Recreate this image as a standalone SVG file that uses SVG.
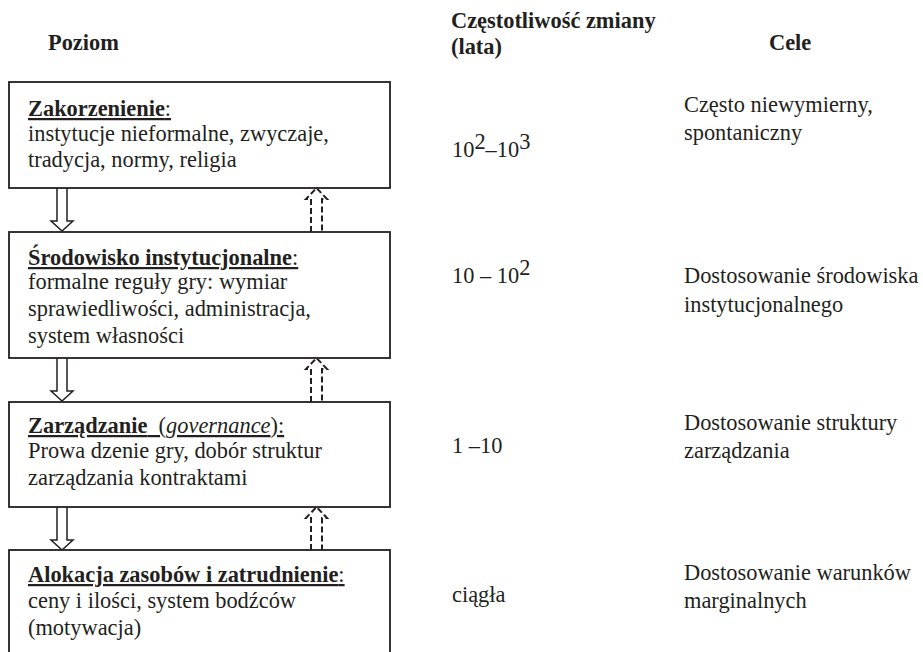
<svg xmlns="http://www.w3.org/2000/svg" width="923" height="652" viewBox="0 0 923 652">
<style>
text{font-family:"Liberation Serif","Times New Roman",serif;font-size:22.4px;fill:#231f20}
.b{font-weight:bold}
.u{text-decoration:underline;text-decoration-thickness:2px}
.box{fill:#fff;stroke:#231f20;stroke-width:1.8}
.hol{fill:#fff;stroke:#231f20;stroke-width:1.5;stroke-linejoin:miter}
.dash{fill:none;stroke:#231f20;stroke-width:2;stroke-dasharray:6 3}
</style>
<rect width="923" height="652" fill="#fff"/>
<g id="headers">
<text class="b" x="48" y="50">Poziom</text>
<text class="b" x="451" y="28">Częstotliwość zmiany</text>
<text class="b" x="451" y="54">(lata)</text>
<text class="b" x="769" y="50">Cele</text>
</g>
<g id="connectors">
<path class="hol" d="M57,188 V221 H51 L62,231 L73,221 H67 V188"/>
<path class="hol" d="M57,358 V391 H51 L62,401 L73,391 H67 V358"/>
<path class="hol" d="M57,507 V540 H51 L62,550 L73,540 H67 V507"/>
<path class="dash" d="M311,232 V199 H306 L316.5,188 L327,199 H322 V232"/>
<path class="dash" d="M311,402 V369 H306 L316.5,358 L327,369 H322 V402"/>
<path class="dash" d="M311,550 V518 H306 L316.5,507 L327,518 H322 V550"/>
</g>
<g id="node-zakorzenienie">
<rect class="box" x="9" y="82" width="381" height="106"/>
<text x="28" y="116" class="u"><tspan class="b">Zakorzenienie</tspan>:</text>
<text x="28" y="141">instytucje nieformalne, zwyczaje,</text>
<text x="28" y="167">tradycja, normy, religia</text>
</g>
<g id="node-srodowisko">
<rect class="box" x="9" y="232" width="381" height="126"/>
<text x="28" y="265" class="u"><tspan class="b">Środowisko instytucjonalne</tspan>:</text>
<text x="28" y="289">formalne reguły gry: wymiar</text>
<text x="28" y="316">sprawiedliwości, administracja,</text>
<text x="28" y="343">system własności</text>
</g>
<g id="node-zarzadzanie">
<rect class="box" x="9" y="402" width="381" height="105"/>
<text x="28" y="433" class="u" xml:space="preserve" style="white-space:pre"><tspan class="b">Zarządzanie</tspan>  (<tspan font-style="italic">governance</tspan>):</text>
<text x="28" y="458">Prowa dzenie gry, dobór struktur</text>
<text x="28" y="485">zarządzania kontraktami</text>
</g>
<g id="node-alokacja">
<rect class="box" x="9" y="550" width="381" height="120"/>
<text x="28" y="582" class="u"><tspan class="b">Alokacja zasobów i zatrudnienie</tspan>:</text>
<text x="28" y="608">ceny i ilości, system bodźców</text>
<text x="28" y="635">(motywacja)</text>
</g>
<g id="frequency">
<text x="452" y="157">10<tspan dy="-8">2</tspan><tspan dy="8">–10</tspan><tspan dy="-8">3</tspan></text>
<text x="452" y="283">10 – 10<tspan dy="-8">2</tspan></text>
<text x="452" y="453">1 –10</text>
<text x="452" y="602">ciągła</text>
</g>
<g id="goals">
<text x="684" y="112">Często niewymierny,</text>
<text x="684" y="140">spontaniczny</text>
<text x="684" y="283">Dostosowanie środowiska</text>
<text x="684" y="312">instytucjonalnego</text>
<text x="684" y="430">Dostosowanie struktury</text>
<text x="684" y="458">zarządzania</text>
<text x="684" y="580">Dostosowanie warunków</text>
<text x="684" y="608">marginalnych</text>
</g>
</svg>
